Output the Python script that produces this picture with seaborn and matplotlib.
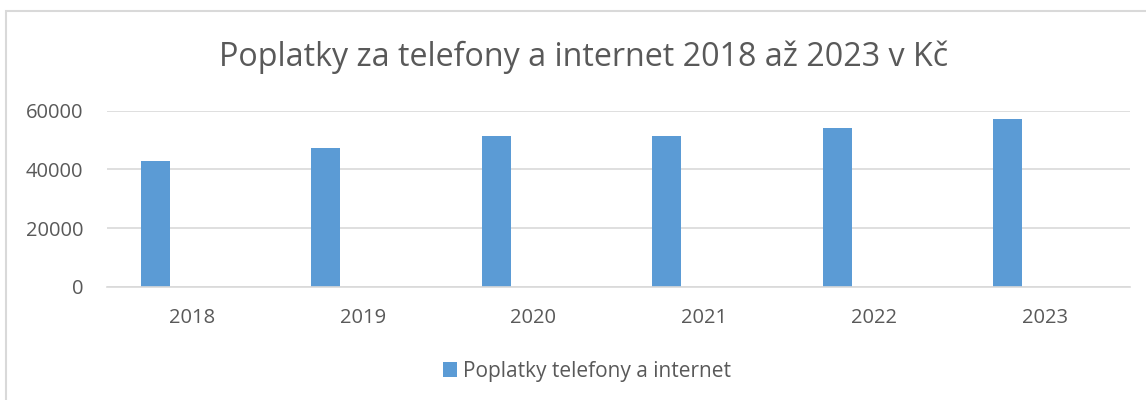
import seaborn as sns
import matplotlib.pyplot as plt
import pandas as pd
from matplotlib.patches import Rectangle, Patch

years = ["2018", "2019", "2020", "2021", "2022", "2023"]
poplatky = [42950, 47150, 51450, 51250, 54150, 57100]
series_name = "Poplatky telefony a internet"
title = "Poplatky za telefony a internet 2018 až 2023 v Kč"

df = pd.DataFrame({"rok": years, "kc": poplatky})

sns.set_theme(style="white")
plt.rcParams["font.family"] = ["Open Sans", "DejaVu Sans"]
text_col = "#595959"
bar_col = "#5B9BD5"

fig = plt.figure(figsize=(11.46, 4.0), dpi=100)
ax = fig.add_axes([107 / 1146, 1 - 287 / 400, (1130 - 107) / 1146, (287 - 110.7) / 400])

sns.barplot(data=df, x="rok", y="kc", color=bar_col, width=0.17, saturation=1, ax=ax)
# excel-like offset of the single series to the left of the category centre
for p in ax.patches:
    p.set_x(p.get_x() - 0.217)
    p.set_edgecolor("none")

ax.set_xlim(-0.5, len(years) - 0.5)
ax.set_ylim(0, 60000)
ax.set_yticks([0, 20000, 40000, 60000])
ax.set_yticklabels(["0", "20000", "40000", "60000"])
ax.yaxis.grid(True, color="#D9D9D9", linewidth=1.2)
ax.set_axisbelow(True)
for s in ["top", "right", "left"]:
    ax.spines[s].set_visible(False)
ax.spines["bottom"].set_color("#D9D9D9")
ax.spines["bottom"].set_linewidth(1.2)
ax.tick_params(axis="both", length=0, labelsize=14.5, colors=text_col)
ax.tick_params(axis="y", pad=17)
ax.tick_params(axis="x", pad=15)
ax.set_xlabel("")
ax.set_ylabel("")

fig.text(0.509, 1 - 57 / 400, title, ha="center", va="center", fontsize=23.2, color=text_col)

handle = Patch(facecolor=bar_col, edgecolor="none")
fig.legend([handle], [series_name], loc="center", bbox_to_anchor=(0.512, 1 - 371 / 400),
           frameon=False, fontsize=15, labelcolor=text_col,
           handlelength=0.7, handleheight=0.7, handletextpad=0.25)

# chart area frame
fig.patches.append(Rectangle((6 / 1146, -0.1), 1.2, 1 - 11 / 400 + 0.1, transform=fig.transFigure,
                             fill=False, edgecolor="#D9D9D9", linewidth=1.5))

plt.savefig("out.png", dpi=100)
